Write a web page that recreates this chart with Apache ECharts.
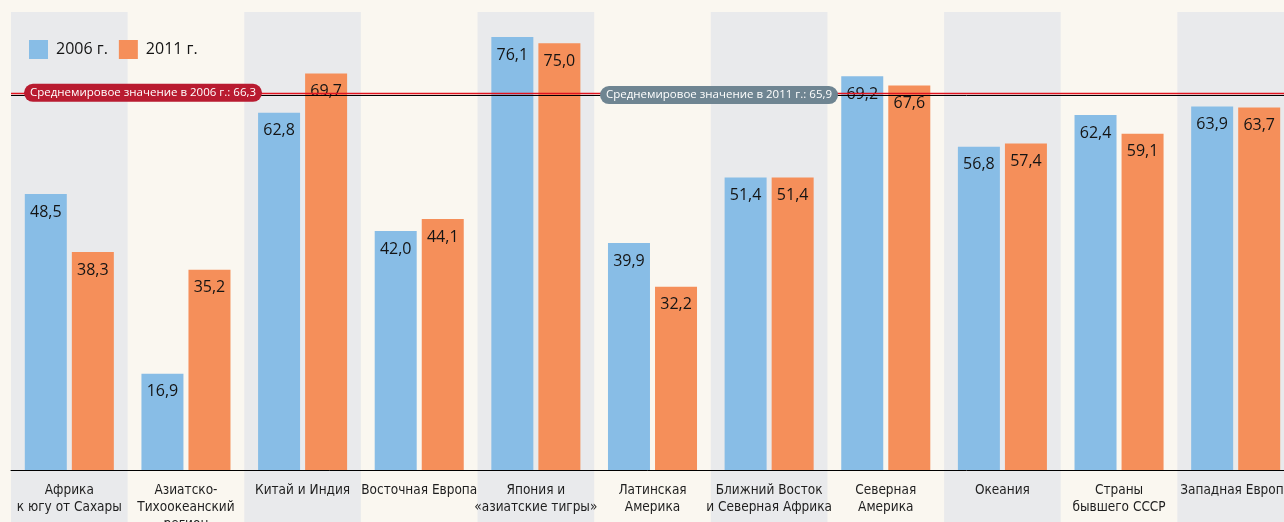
<!DOCTYPE html>
<html><head><meta charset="utf-8">
<script src="https://cdn.jsdelivr.net/npm/echarts@6/dist/echarts.min.js"></script>
<style>html,body{margin:0;padding:0;background:#faf7f0;}#c{width:1284px;height:522px;}</style>
</head><body><div id="c"></div>
<script>
const categories = [
  'Африка\nк югу от Сахары',
  'Азиатско-\nТихоокеанский\nрегион',
  'Китай и Индия',
  'Восточная Европа',
  'Япония и\n«азиатские тигры»',
  'Латинская\nАмерика',
  'Ближний Восток\nи Северная Африка',
  'Северная\nАмерика',
  'Океания',
  'Страны\nбывшего СССР',
  'Западная Европа'
];
const values2006 = [48.5, 16.9, 62.8, 42.0, 76.1, 39.9, 51.4, 69.2, 56.8, 62.4, 63.9];
const values2011 = [38.3, 35.2, 69.7, 44.1, 75.0, 32.2, 51.4, 67.6, 57.4, 59.1, 63.7];
const seriesNames = ['2006 г.', '2011 г.'];
const avg2006 = 66.3;
const avg2011 = 65.9;
const avgLabels = ['Среднемировое значение в 2006 г.: 66,3', 'Среднемировое значение в 2011 г.: 65,9'];
const bandCategories = [0, 2, 4, 6, 8, 10];

const fmt = v => v.toFixed(1).replace('.', ',');
const chart = echarts.init(document.getElementById('c'), null, {renderer: 'canvas'});
const valueLabel = {
  show: true, position: 'insideTop', distance: 10,
  fontFamily: 'Open Sans', fontSize: 16, color: '#141414',
  formatter: p => fmt(p.value)
};
chart.setOption({
  backgroundColor: '#faf7f0',
  animation: false,
  legend: {
    data: seriesNames, left: 24, top: 35, icon: 'rect', itemWidth: 19, itemHeight: 19, itemGap: 11,
    textStyle: {fontFamily: 'Open Sans', fontSize: 16, color: '#141414', padding: [0, 0, 0, 3]}
  },
  grid: {left: 11, right: -10, top: 12, bottom: 52, containLabel: false, outerBoundsMode: 'none'},
  xAxis: {
    type: 'category', data: categories, z: 10,
    axisLine: {lineStyle: {color: '#000', width: 1}},
    axisTick: {show: false},
    axisLabel: {interval: 0, margin: 12, hideOverlap: false, fontFamily: '"DejaVu Sans Condensed", "Liberation Sans Narrow", "Open Sans"', fontSize: 13.5, lineHeight: 17, color: '#1e1e1e', verticalAlign: 'top'}
  },
  yAxis: {type: 'value', min: 0, max: 80.5, show: false, splitLine: {show: false}},
  series: [
    {
      type: 'custom', name: 'bands', z: 1, clip: false, silent: true,
      data: bandCategories.map(i => [i, 0]),
      encode: {x: 0, y: 1},
      renderItem: (params, api) => {
        const c = api.coord([api.value(0), 0]);
        const w = api.size([1, 0])[0];
        const top = params.coordSys.y;
        return {type: 'rect', shape: {x: c[0] - w / 2, y: top, width: w, height: api.getHeight() - top},
          style: {fill: '#e9eaec'}};
      }
    },
    {
      name: seriesNames[0], type: 'bar', data: values2006, barWidth: 42, barGap: '12%', z: 2,
      itemStyle: {color: '#88bde6'}, label: valueLabel
    },
    {
      name: seriesNames[1], type: 'bar', data: values2011, barWidth: 42, barGap: '12%', z: 2,
      itemStyle: {color: '#f58f5a'}, label: valueLabel,
      markLine: {
        silent: true, symbol: 'none', z: 5,
        data: [
          {yAxis: avg2006, lineStyle: {color: '#e2131f', width: 1.3, type: 'solid', opacity: 1},
            label: {show: true, position: 'insideStart', distance: [13, 0], formatter: avgLabels[0],
              backgroundColor: '#b91b30', color: '#fff', borderRadius: 9, padding: [3, 6, 3, 6],
              fontFamily: 'Open Sans', fontSize: 11.5}},
          {yAxis: avg2011, lineStyle: {color: '#000', width: 1, type: 'solid', opacity: 1},
            label: {show: true, position: 'insideStart', distance: [589, 0], formatter: avgLabels[1],
              backgroundColor: '#6f8592', color: '#fff', borderRadius: 9, padding: [3, 6, 3, 6],
              fontFamily: 'Open Sans', fontSize: 11.5}}
        ]
      }
    }
  ]
});
</script></body></html>
